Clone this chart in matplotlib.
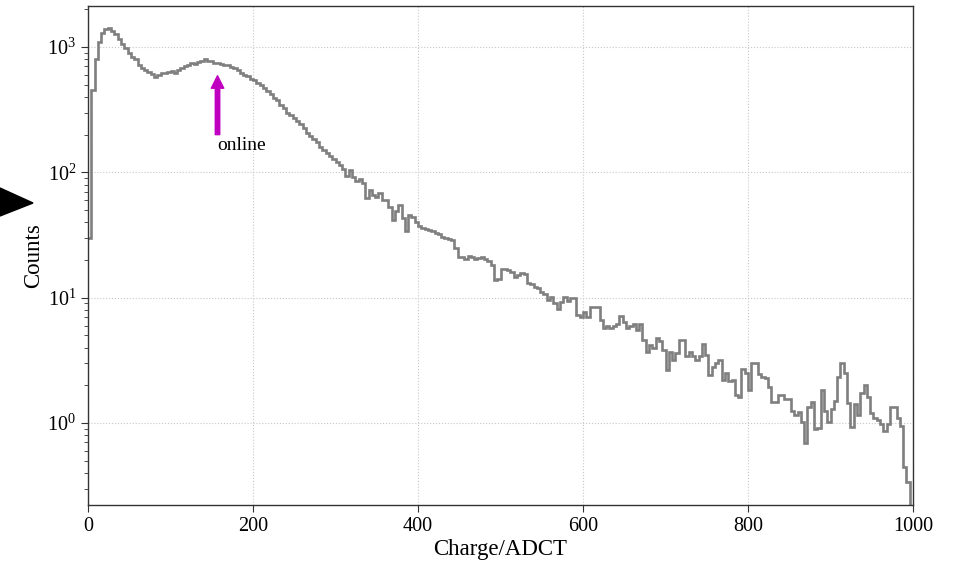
import numpy as np
import matplotlib.pyplot as plt
from matplotlib.patches import Polygon

plt.rcParams['font.family'] = ['Liberation Serif', 'DejaVu Serif']
plt.rcParams['mathtext.fontset'] = 'custom'
plt.rcParams['mathtext.rm'] = 'Liberation Serif'
plt.rcParams['mathtext.it'] = 'Liberation Serif:italic'

# --- histogram data: bin edges 0..1000 in steps of 4 ADC counts ---
bin_width = 4
edges = np.arange(0, 1000 + bin_width, bin_width)
counts = [
    30, 450, 800, 1100, 1300, 1400, 1420, 1350, 1260, 1150,
    1060, 990, 900, 840, 800, 720, 680, 650, 630, 610,
    580, 600, 620, 615, 630, 640, 625, 660, 675, 700,
    720, 740, 735, 760, 775, 800, 780, 770, 745, 750,
    735, 720, 715, 695, 680, 650, 625, 600, 585, 560,
    545, 520, 495, 470, 445, 420, 395, 375, 345, 325,
    300, 285, 270, 255, 245, 225, 205, 195, 185, 175,
    160, 150, 142, 135, 128, 122, 115, 106, 94, 105,
    92, 86, 88, 82, 62, 72, 66, 64, 68, 60,
    60, 53, 42, 49, 55, 43, 34, 46, 44, 40,
    37, 36, 35.5, 34.6, 34, 33, 32.5, 30.5, 30, 29.2,
    29, 25, 21, 21, 20.5, 21.5, 21, 20.2, 20.8, 21.3,
    20.2, 19.5, 18.3, 13.9, 14.2, 16.8, 17, 16.5, 16.1, 14.7,
    15.2, 15.8, 15.6, 13.0, 12.8, 12.2, 11.9, 11.2, 10.8, 9.6,
    10.1, 9.0, 8.2, 9.3, 10.2, 9.5, 9.9, 9.9, 7.3, 7.0,
    7.7, 7.0, 8.5, 8.5, 8.4, 6.6, 5.7, 6.0, 5.7, 6.0,
    6.2, 7.1, 6.4, 5.7, 5.9, 6.2, 5.5, 6.2, 4.6, 3.7,
    4.2, 4.0, 4.8, 4.5, 3.8, 2.65, 3.7, 3.2, 3.6, 4.6,
    4.6, 3.4, 3.7, 3.45, 3.2, 3.45, 4.3, 3.5, 2.4, 2.8,
    3.0, 3.2, 2.2, 2.5, 2.15, 2.2, 1.67, 1.6, 2.7, 2.5,
    1.85, 3.0, 3.0, 2.45, 2.35, 2.3, 1.95, 1.48, 1.48, 1.67,
    1.67, 1.55, 1.57, 1.25, 1.16, 1.22, 1.02, 0.69, 1.35, 1.48,
    0.9, 0.92, 1.85, 1.25, 1.02, 1.3, 1.5, 2.34, 3.0, 2.5,
    1.45, 0.93, 1.43, 1.15, 1.75, 2.0, 1.6, 1.2, 1.1, 1.05,
    0.99, 0.86, 0.99, 1.35, 1.35, 1.1, 0.95, 0.45, 0.34, 0,
]
counts = np.array(counts, dtype=float)

arrow_x = 157
arrow_tail = 200
arrow_head = 590
label_pos = (157, 165)

fig = plt.figure(figsize=(9.54, 5.66), dpi=100)
ax = fig.add_axes([88 / 954, 1 - 505 / 566, (913 - 88) / 954, (505 - 6) / 566])

ax.stairs(counts, edges, baseline=None, color='#7f7f7f', lw=1.9)

ax.set_yscale('log')
ax.set_xlim(0, 1000)
ax.set_ylim(0.222, 2124)
ax.set_xticks([0, 200, 400, 600, 800, 1000])

ax.grid(True, which='major', linestyle=':', color='#c8c8c8', lw=0.8)
ax.set_axisbelow(True)
for sp in ax.spines.values():
    sp.set_color('#333333')
    sp.set_linewidth(1.0)
ax.tick_params(which='both', direction='out', top=False, right=False,
               color='#333333', labelsize=14.5)
ax.tick_params(which='major', length=5)
ax.tick_params(which='minor', length=3)

ax.set_xlabel('Charge/ADCT', fontsize=16.5, labelpad=2)
ax.set_ylabel('Counts', fontsize=16.5, labelpad=2)

# arrow marking the online threshold
ax.annotate('', xy=(arrow_x, arrow_head), xytext=(arrow_x, arrow_tail),
            arrowprops=dict(color='#c000c0', width=3.2, headwidth=9,
                            headlength=9, shrink=0))
ax.text(label_pos[0], label_pos[1], 'online', fontsize=14, ha='left', va='center')

# black triangle at the left edge
tri = Polygon([(0, 1 - 188 / 566), (33 / 954, 1 - 203 / 566), (0, 1 - 216 / 566)],
              closed=True, transform=fig.transFigure, color='black')
fig.patches.append(tri)

fig.savefig('out.png', dpi=100)
